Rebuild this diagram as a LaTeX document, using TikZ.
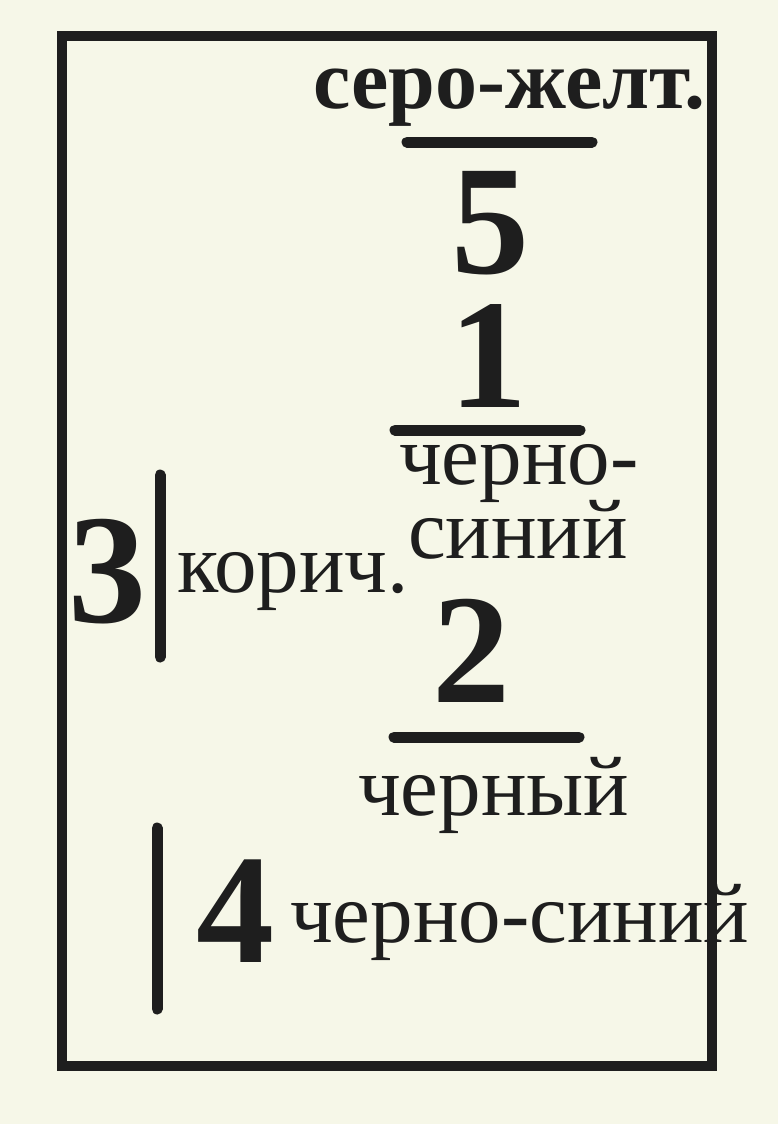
\documentclass[tikz,border=0pt]{standalone}
\usepackage{fontspec}
\setmainfont{Liberation Serif}
\definecolor{bg}{RGB}{246,247,232}
\definecolor{ink}{RGB}{30,30,30}
\begin{document}
\begin{tikzpicture}[x=1pt,y=-1pt,
  bar/.style={draw=ink,line width=11pt,line cap=round},
  lbl/.style={anchor=base west,inner sep=0pt,text=ink,text height=0.5em,text depth=0pt,font=\fontsize{85}{85}\selectfont},
  blbl/.style={anchor=base west,inner sep=0pt,text=ink,text height=0.5em,text depth=0pt,font=\fontsize{84}{84}\selectfont\bfseries},
  digit/.style={anchor=base west,inner sep=0pt,text=ink,text height=0.66em,text depth=0pt,font=\fontsize{156}{156}\selectfont\bfseries}]
\fill[bg] (0,0) rectangle (778,1124);
\useasboundingbox (0,0) rectangle (778,1124);
% labels
\node[blbl] (sz) at (313,108) {серо-желт.};
\coordinate (l1a) at (407,142); \coordinate (l1b) at (592,142);
\draw[bar] (l1a) -- (l1b);
\node[digit] (d5) at (451,273) {5};
\node[digit] (d1) at (449,407) {1};
\coordinate (l2a) at (395,430); \coordinate (l2b) at (580,430);
\draw[bar] (l2a) -- (l2b);
\node[lbl] (cs1) at (399,484) {черно-};
\node[lbl] (cs2) at (408,558) {синий};
\node[digit] (d3) at (68,622) {3};
\coordinate (v1a) at (160,475); \coordinate (v1b) at (160,657);
\draw[bar] (v1a) -- (v1b);
\node[lbl] (kor) at (177,592) {корич.};
\node[digit] (d2) at (432,702) {2};
\coordinate (l3a) at (394,737); \coordinate (l3b) at (579,737);
\draw[bar] (l3a) -- (l3b);
\node[lbl] (chn) at (358,815) {черный};
\coordinate (v2a) at (157,828); \coordinate (v2b) at (157,1009);
\draw[bar] (v2a) -- (v2b);
\node[digit] (d4) at (196,962) {4};
\node[lbl] (chs) at (290,942) {черно-синий};
% frame
\draw[draw=ink,line width=10pt] (62,36) rectangle (712,1066);
\end{tikzpicture}
\end{document}
